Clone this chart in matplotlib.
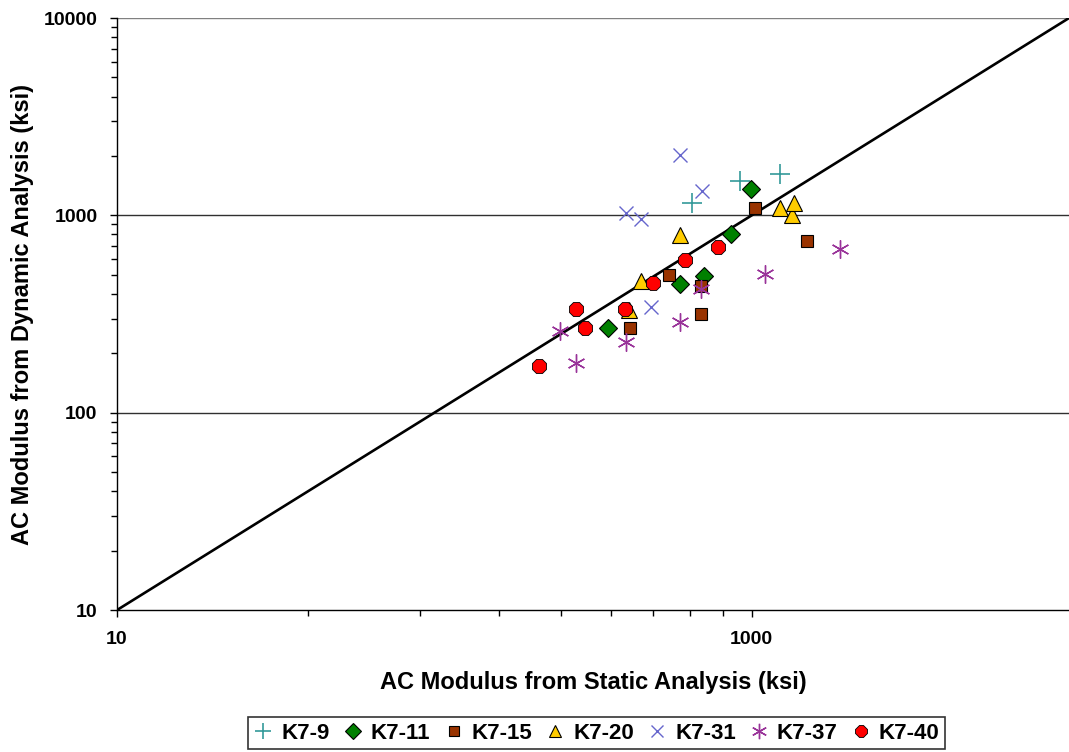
import numpy as np
import matplotlib
matplotlib.use('Agg')
import matplotlib.pyplot as plt
from matplotlib.ticker import FixedLocator, NullFormatter, LogLocator, FixedFormatter

plt.rcParams['font.family'] = ['Liberation Sans', 'DejaVu Sans']
plt.rcParams['font.weight'] = 'bold'

# static (x) vs dynamic (y) modulus, ksi
k7_9_x = [649, 917, 1224]
k7_9_y = [1156, 1494, 1622]
k7_11_x = [352, 595, 708, 860, 993]
k7_11_y = [269, 449, 493, 805, 1361]
k7_15_x = [415, 550, 692, 692, 1022, 1497]
k7_15_y = [269, 499, 439, 316, 1090, 742]
k7_20_x = [412, 449, 595, 1224, 1343, 1363]
k7_20_y = [330, 465, 796, 1090, 1005, 1156]
k7_31_x = [595, 698, 401, 449, 480]
k7_31_y = [2024, 1330, 1029, 959, 343]
k7_37_x = [249, 279, 401, 595, 692, 1098, 1900]
k7_37_y = [259, 179, 228, 288, 424, 505, 676]
k7_40_x = [214, 279, 298, 398, 490, 617, 783]
k7_40_y = [172, 335, 269, 335, 454, 594, 692]

fig = plt.figure(figsize=(10.69, 7.52), dpi=100)
ax = fig.add_axes([0.1095, 0.1888, 0.8905, 0.7872])

ax.plot([10, 10000], [10, 10000], color='black', lw=1.9, zorder=2)

ax.plot(k7_9_x, k7_9_y, ls='none', marker='+', ms=14, mew=1.2, color='#339999', label='K7-9', zorder=3)
ax.plot(k7_11_x, k7_11_y, ls='none', marker='D', ms=9.5, mfc='#008000', mec='black', mew=0.8, label='K7-11', zorder=3)
ax.plot(k7_15_x, k7_15_y, ls='none', marker='s', ms=9, mfc='#993300', mec='black', mew=0.8, label='K7-15', zorder=3)
ax.plot(k7_20_x, k7_20_y, ls='none', marker='^', ms=11, mfc='#FFCC00', mec='black', mew=0.8, label='K7-20', zorder=3)
ax.plot(k7_31_x, k7_31_y, ls='none', marker='x', ms=10, mew=1.0, color='#6666CC', label='K7-31', zorder=3)
ax.plot(k7_37_x, k7_37_y, ls='none', marker=(6, 2, 0), ms=13, mew=1.0, color='#993399', label='K7-37', zorder=3)
ax.plot(k7_40_x, k7_40_y, ls='none', marker='8', ms=10.5, mfc='#FF0000', mec='black', mew=0.6, label='K7-40', zorder=4)

ax.set_xscale('log')
ax.set_yscale('log')
ax.set_xlim(10, 10000)
ax.set_ylim(10, 10000)

ax.xaxis.set_major_locator(FixedLocator([10, 1000]))
ax.xaxis.set_major_formatter(FixedFormatter(['10', '1000']))
ax.xaxis.set_minor_locator(FixedLocator([10 * k * k for k in range(2, 10)]))
ax.xaxis.set_minor_formatter(NullFormatter())
ax.yaxis.set_major_locator(FixedLocator([10, 100, 1000, 10000]))
ax.yaxis.set_major_formatter(FixedFormatter(['10', '100', '1000', '10000']))
ax.yaxis.set_minor_locator(LogLocator(base=10, subs=np.arange(2, 10)))
ax.yaxis.set_minor_formatter(NullFormatter())

for y in [100, 1000]:
    ax.axhline(y, color='#303030', lw=1.0, zorder=1)
ax.axhline(10000, color='#808080', lw=1.0, zorder=1)

for s in ['top', 'right']:
    ax.spines[s].set_visible(False)
for s in ['left', 'bottom']:
    ax.spines[s].set_color('black')
    ax.spines[s].set_linewidth(1.0)

ax.tick_params(which='major', direction='out', length=5, width=1, labelsize=14)
ax.tick_params(axis='y', which='major', pad=9)
ax.tick_params(axis='x', which='major', pad=10)
ax.tick_params(which='minor', direction='out', length=4, width=1)

ax.set_xlabel('AC Modulus from Static Analysis (ksi)', fontsize=17, fontweight='bold', labelpad=17)
ax.set_ylabel('AC Modulus from Dynamic Analysis (ksi)', fontsize=17, fontweight='bold', labelpad=7)

leg = ax.legend(loc='center', bbox_to_anchor=(0.5037, -0.2078), ncol=7, frameon=True, fancybox=False,
                edgecolor='black', prop={'weight': 'bold', 'size': 16}, handletextpad=0.35,
                columnspacing=0.6, handlelength=0.9, borderpad=0.25, borderaxespad=0, markerscale=0.85)
leg.get_frame().set_linewidth(1.2)

fig.savefig('out.png', dpi=100)
